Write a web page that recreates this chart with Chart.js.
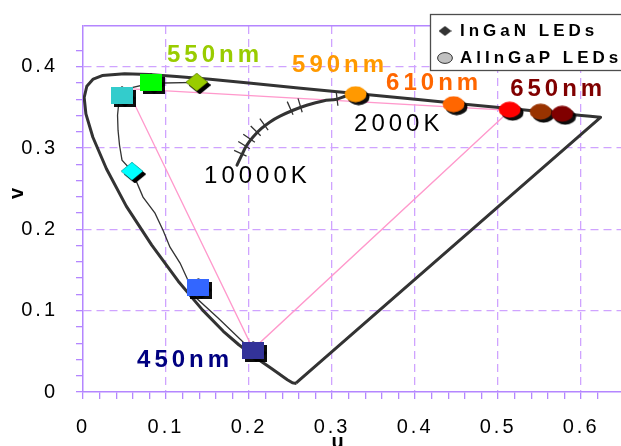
<!DOCTYPE html>
<html>
<head>
<meta charset="utf-8">
<title>CIE 1960 uv – LED colour points</title>
<script src="https://cdn.jsdelivr.net/npm/chart.js@4.4.1/dist/chart.umd.min.js"></script>
<style>
  html, body { margin: 0; padding: 0; background: #ffffff; overflow: hidden; }
  canvas { display: block; }
</style>
</head>
<body>
<canvas id="chart" width="621" height="446"></canvas>
<script>
// ---- CIE 1960 (u, v) data ----

// spectral locus 380 nm -> 700 nm, closed back to 380 nm by the purple line
const locusU = [0.2568, 0.2557, 0.2522, 0.2461, 0.2347, 0.2266, 0.2161, 0.2033, 0.1877, 0.1690,
                0.1441, 0.1147, 0.0828, 0.0521, 0.0282, 0.0119, 0.0035, 0.0014, 0.0046, 0.0123,
                0.0231, 0.0501, 0.0792, 0.1127, 0.1531, 0.2026, 0.2623, 0.3315, 0.4035, 0.4692,
                0.5203, 0.5565, 0.5830, 0.6005, 0.6109, 0.6199, 0.6234, 0.2568];
const locusV = [0.0111, 0.0106, 0.0113, 0.0151, 0.0233, 0.0291, 0.0366, 0.0459, 0.0581, 0.0746,
                0.1007, 0.1362, 0.1806, 0.2285, 0.2745, 0.3132, 0.3420, 0.3621, 0.3759, 0.3847,
                0.3891, 0.3912, 0.3904, 0.3880, 0.3844, 0.3796, 0.3736, 0.3667, 0.3596, 0.3530,
                0.3479, 0.3443, 0.3417, 0.3400, 0.3389, 0.3380, 0.3377, 0.0111];

// Planckian locus, high colour temperature -> 2000 K
const planckU = [0.1855, 0.1912, 0.1972, 0.2048, 0.2153, 0.2253, 0.2373, 0.2530, 0.2695, 0.2892, 0.3057, 0.3157];
const planckV = [0.2789, 0.2912, 0.3034, 0.3136, 0.3243, 0.3321, 0.3391, 0.3464, 0.3526, 0.3579, 0.3600, 0.3636];

// isotemperature marks across the Planckian locus (start / end points)
const isoStartU = [0.182, 0.187, 0.193, 0.202, 0.213, 0.246, 0.259, 0.305];
const isoStartV = [0.297, 0.308, 0.317, 0.327, 0.336, 0.357, 0.361, 0.369];
const isoEndU   = [0.197, 0.201, 0.207, 0.214, 0.223, 0.253, 0.264, 0.307];
const isoEndV   = [0.290, 0.299, 0.307, 0.315, 0.322, 0.341, 0.344, 0.352];

// InGaN LED trace
const traceU = [0.1373, 0.0819, 0.0602, 0.0434, 0.0416, 0.0422, 0.0440, 0.0470, 0.0590, 0.0723,
                0.0867, 0.0964, 0.1048, 0.1169, 0.1253, 0.1289, 0.1325, 0.1627, 0.1928, 0.2048];
const traceV = [0.3808, 0.3796, 0.3747, 0.3587, 0.3403, 0.3219, 0.3034, 0.2850, 0.2715, 0.2396,
                0.2199, 0.1990, 0.1781, 0.1585, 0.1400, 0.1290, 0.1192, 0.0909, 0.0614, 0.0516];

// InGaN LEDs (550 nm ... 450 nm)
const inganU = [0.137, 0.082, 0.047, 0.059, 0.139, 0.205];
const inganV = [0.381, 0.381, 0.365, 0.2715, 0.129, 0.0516];

// AlInGaP LEDs (590 nm ... 650 nm and deeper red)
const alingapU = [0.3283, 0.4464, 0.5139, 0.5512, 0.5771];
const alingapV = [0.3661, 0.3538, 0.3471, 0.3446, 0.3421];

// RGB triangle
const gamutU = [0.053, 0.5145, 0.2048, 0.053];
const gamutV = [0.3729, 0.3464, 0.0528, 0.3729];

// axis tick labels
const uMajor = [0, 0.1, 0.2, 0.3, 0.4, 0.5, 0.6];
const uTickLabels = ['0', '0.1', '0.2', '0.3', '0.4', '0.5', '0.6'];
const vMajor = [0, 0.1, 0.2, 0.3, 0.4];
const vTickLabels = ['0', '0.1', '0.2', '0.3', '0.4'];

// ---- styling ----
const FONT = '"Liberation Sans", Arial, Helvetica, sans-serif';
const AXIS = '#B486FF';
const GRID = '#CFA3FF';
const INK = '#333333';
const NONE = 'rgba(0,0,0,0)';
const U_MAX = 0.648, V_MAX = 0.45;

const inganShape = ['diamond', 'square', 'square', 'diamond', 'square', 'square'];
const inganColor = ['#99CC00', '#00FF00', '#33CCCC', '#00FFFF', '#3366FF', '#333399'];
const alingapColor = ['#FF9900', '#FF6600', '#FF0000', '#993300', '#800000'];

const near = (a, b) => Math.abs(a - b) < 1e-6;
const pts = (us, vs) => us.map((u, i) => ({ x: u, y: vs[i] }));
const tickText = (value, majors, labels) => {
  const i = majors.findIndex(m => near(m, value));
  return i < 0 ? '' : labels[i];
};

function shapeCanvas(shape, w, h, fill, stroke) {
  const c = document.createElement('canvas');
  c.width = w; c.height = h;
  const g = c.getContext('2d');
  g.beginPath();
  if (shape === 'square') g.rect(0, 0, w, h);
  else if (shape === 'diamond') { g.moveTo(w / 2, 0); g.lineTo(w, h / 2); g.lineTo(w / 2, h); g.lineTo(0, h / 2); g.closePath(); }
  else g.ellipse(w / 2, h / 2, w / 2 - 0.6, h / 2 - 0.6, 0, 0, Math.PI * 2);
  g.fillStyle = fill; g.fill();
  if (stroke) { g.lineWidth = 1; g.strokeStyle = stroke; g.stroke(); }
  return c;
}

const isoData = [];
isoStartU.forEach((u, i) => {
  isoData.push({ x: u, y: isoStartV[i] }, { x: isoEndU[i], y: isoEndV[i] }, { x: isoEndU[i], y: null });
});

// hard drop shadow behind the LED markers
const markerShadow = {
  id: 'markerShadow',
  beforeDatasetDraw(chart, args) {
    if (chart.data.datasets[args.index].dropShadow) {
      const c = chart.ctx;
      c.save();
      c.shadowColor = 'rgba(0,0,0,0.95)';
      c.shadowOffsetX = 3; c.shadowOffsetY = 3; c.shadowBlur = 1;
    }
  },
  afterDatasetDraw(chart, args) {
    if (chart.data.datasets[args.index].dropShadow) chart.ctx.restore();
  }
};

// wide letter spacing for axis text
const spacedText = {
  id: 'spacedText',
  beforeDraw(chart, args, o) { chart.ctx.letterSpacing = o.spacing + 'px'; }
};

// wavelength / colour temperature tags
const tags = {
  id: 'tags',
  afterDatasetsDraw(chart, args, o) {
    const { ctx, scales: { x, y } } = chart;
    ctx.save();
    ctx.textAlign = 'left'; ctx.textBaseline = 'middle';
    ctx.letterSpacing = o.spacing + 'px';
    o.items.forEach(t => {
      ctx.font = (t.bold ? 'bold ' : '') + o.size + 'px ' + FONT;
      ctx.fillStyle = t.color;
      ctx.fillText(t.text, x.getPixelForValue(t.u), y.getPixelForValue(t.v));
    });
    ctx.restore();
  }
};

// boxed legend in the upper right corner
const legendPanel = {
  id: 'legendPanel',
  afterDraw(chart, args, o) {
    const ctx = chart.ctx;
    ctx.save();
    ctx.fillStyle = '#ffffff';
    ctx.fillRect(o.left, o.top, o.width, o.height);
    ctx.strokeStyle = o.borderColor; ctx.lineWidth = o.borderWidth;
    ctx.strokeRect(o.left + 0.5, o.top + 0.5, o.width, o.height);
    ctx.font = 'bold ' + o.fontSize + 'px ' + FONT;
    ctx.letterSpacing = o.spacing + 'px';
    ctx.textAlign = 'left'; ctx.textBaseline = 'middle'; ctx.fillStyle = '#000000';
    o.entries.forEach((e, i) => {
      const ds = chart.data.datasets.find(d => d.label === e.label);
      const cy = o.top + o.firstRow + i * o.rowGap;
      ctx.drawImage(e.marker, o.left + o.markerX - e.marker.width / 2, cy - e.marker.height / 2);
      ctx.fillText(ds.label, o.left + o.textX, cy);
    });
    ctx.restore();
  }
};

new Chart(document.getElementById('chart'), {
  type: 'scatter',
  data: {
    datasets: [
      {
        label: 'InGaN colours', data: pts(inganU, inganV), dropShadow: true, order: 1,
        pointStyle: inganShape.map((s, i) => shapeCanvas(s, 22, s === 'square' ? 17 : 18, inganColor[i])),
        pointRadius: 9
      },
      {
        label: 'AlInGaP LEDs', data: pts(alingapU, alingapV), dropShadow: true, order: 2,
        pointStyle: alingapColor.map(c => shapeCanvas('ellipse', 23, 17, c)),
        pointRadius: 9
      },
      {
        label: 'InGaN LEDs', data: pts(inganU, inganV), dropShadow: true, order: 3,
        pointStyle: shapeCanvas('diamond', 22, 18, '#1a1a1a'), pointRadius: 9
      },
      {
        label: 'InGaN trace', data: pts(traceU, traceV), showLine: true, order: 4,
        borderColor: INK, borderWidth: 1.3, pointRadius: 0
      },
      {
        label: 'Planckian locus', data: pts(planckU, planckV), showLine: true, order: 5,
        borderColor: INK, borderWidth: 3, tension: 0.4, pointRadius: 0, borderCapStyle: 'round'
      },
      {
        label: 'Isotemperature', data: isoData, showLine: true, spanGaps: false, order: 6,
        borderColor: INK, borderWidth: 1.3, pointRadius: 0
      },
      {
        label: 'Spectral locus', data: pts(locusU, locusV), showLine: true, order: 7,
        borderColor: INK, borderWidth: 3, pointRadius: 0, borderJoinStyle: 'round'
      },
      {
        label: 'RGB triangle', data: pts(gamutU, gamutV), showLine: true, order: 8,
        borderColor: '#FF99CC', borderWidth: 1.3, pointRadius: 0
      }
    ]
  },
  options: {
    responsive: false,
    animation: false,
    events: [],
    layout: { autoPadding: false, padding: { top: 26, right: 0, bottom: 0, left: 0 } },
    scales: {
      x: {
        type: 'linear', min: 0, max: U_MAX,
        afterFit(scale) { scale.height = 54; scale.paddingLeft = 0; scale.paddingRight = 0; },
        border: { display: true, color: AXIS, width: 1.5, dash: [8, 5] },
        grid: {
          color: c => (c.tick && uMajor.some(m => m > 0 && near(m, c.tick.value))) ? GRID : NONE,
          lineWidth: 1.3, drawTicks: true, tickLength: 7, tickWidth: 1.3,
          tickColor: c => (c.tick && near(c.tick.value, U_MAX)) ? NONE : AXIS
        },
        ticks: {
          stepSize: 0.02, autoSkip: false, maxRotation: 0, padding: 16, color: '#000000',
          font: { family: FONT, size: 20 },
          callback: v => tickText(v, uMajor, uTickLabels)
        },
        title: {
          display: true, text: 'u   ', color: '#000000',
          font: { family: FONT, size: 20, weight: 'bold' }, padding: { top: 0, bottom: -8 }
        }
      },
      y: {
        type: 'linear', min: 0, max: V_MAX,
        afterFit(scale) { scale.width = 83; scale.paddingTop = 0; scale.paddingBottom = 0; },
        border: {
          display: true, color: AXIS, width: 1.5,
          dash: c => (c.tick && near(c.tick.value, V_MAX)) ? [] : [8, 5]
        },
        grid: {
          color: c => {
            if (!c.tick) return NONE;
            if (near(c.tick.value, V_MAX)) return AXIS;
            return vMajor.some(m => m > 0 && near(m, c.tick.value)) ? GRID : NONE;
          },
          lineWidth: c => (c.tick && near(c.tick.value, V_MAX)) ? 1.5 : 1.3,
          drawTicks: true, tickLength: 7, tickWidth: 1.3,
          tickColor: c => (c.tick && near(c.tick.value, V_MAX)) ? NONE : AXIS
        },
        ticks: {
          stepSize: 0.02, autoSkip: false, padding: 18, color: '#000000',
          font: { family: FONT, size: 20 },
          callback: v => tickText(v, vMajor, vTickLabels)
        },
        title: {
          display: true, text: '    v', color: '#000000',
          font: { family: FONT, size: 20, weight: 'bold' }, padding: { top: 5, bottom: 0 }
        }
      }
    },
    plugins: {
      legend: { display: false },
      tooltip: { enabled: false },
      spacedText: { spacing: 3 },
      tags: {
        size: 24, spacing: 4,
        items: [
          { text: '550nm', u: 0.1012, v: 0.4140, color: '#99CC00', bold: true },
          { text: '590nm', u: 0.2518, v: 0.4017, color: '#FF9900', bold: true },
          { text: '610nm', u: 0.3651, v: 0.3790, color: '#FF6600', bold: true },
          { text: '650nm', u: 0.5145, v: 0.3722, color: '#800000', bold: true },
          { text: '450nm', u: 0.0651, v: 0.0393, color: '#000080', bold: true },
          { text: '2000K', u: 0.3265, v: 0.3292, color: '#000000', bold: false },
          { text: '10000K', u: 0.1458, v: 0.2654, color: '#000000', bold: false }
        ]
      },
      legendPanel: {
        left: 430, top: 14, width: 200, height: 56, borderColor: '#4d4d4d', borderWidth: 1.3,
        firstRow: 17, rowGap: 27, markerX: 15, textX: 30, fontSize: 17, spacing: 4,
        entries: [
          { label: 'InGaN LEDs', marker: shapeCanvas('diamond', 13, 10, '#333333') },
          { label: 'AlInGaP LEDs', marker: shapeCanvas('ellipse', 16, 12, '#C0C0C0', '#333333') }
        ]
      }
    }
  },
  plugins: [markerShadow, spacedText, tags, legendPanel]
});
</script>
</body>
</html>
